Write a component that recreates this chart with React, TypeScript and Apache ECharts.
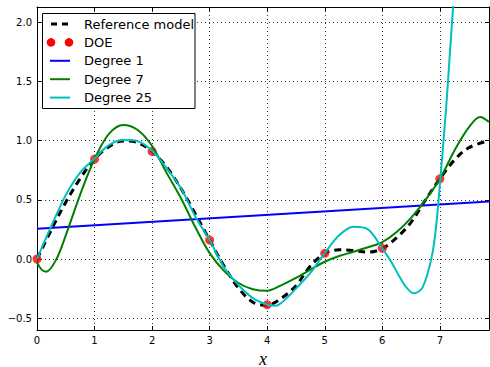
import React, { useEffect, useRef } from 'react';
import * as echarts from 'echarts';

const X_MIN = 0;
const X_MAX = 7.854;
const Y_MIN = -0.6;
const Y_MAX = 2.13;

const legendLabels = ['Reference model', 'DOE', 'Degree 1', 'Degree 7', 'Degree 25'];

const refX = [0, 0.25, 0.5, 0.75, 1.0, 1.25, 1.5, 1.75, 2.0, 2.25, 2.5, 2.75, 3.0, 3.25, 3.5, 3.75, 4.0, 4.25, 4.5, 4.75, 5.0, 5.25, 5.5, 5.75, 6.0, 6.25, 6.5, 6.75, 7.0, 7.25, 7.5, 7.854];
const refY = [0, 0.247, 0.48, 0.68, 0.845, 0.95, 0.998, 0.984, 0.909, 0.778, 0.598, 0.382, 0.16, -0.06, -0.245, -0.365, -0.39, -0.33, -0.225, -0.06, 0.048, 0.078, 0.072, 0.058, 0.088, 0.18, 0.31, 0.5, 0.678, 0.835, 0.94, 1.0];

const doeX = [0, 1, 2, 3, 4, 5, 6, 7];
const doeY = [0, 0.845, 0.909, 0.16, -0.386, 0.048, 0.09, 0.678];

const deg1X = [0, 7.854];
const deg1Y = [0.255, 0.487];

const deg7X = [0, 0.08, 0.16, 0.33, 0.5, 0.75, 1.0, 1.25, 1.5, 1.75, 2.0, 2.25, 2.5, 2.75, 3.0, 3.25, 3.5, 3.75, 4.0, 4.25, 4.5, 4.75, 5.0, 5.25, 5.5, 5.75, 6.0, 6.25, 6.5, 6.75, 7.0, 7.25, 7.5, 7.7, 7.854];
const deg7Y = [-0.03, -0.09, -0.107, -0.008, 0.2, 0.545, 0.845, 1.057, 1.132, 1.09, 0.955, 0.73, 0.515, 0.27, 0.05, -0.1, -0.203, -0.255, -0.268, -0.22, -0.16, -0.09, -0.023, 0.025, 0.061, 0.099, 0.143, 0.228, 0.348, 0.5, 0.676, 0.913, 1.11, 1.2, 1.158];

const deg25X = [0, 0.25, 0.5, 0.75, 1.0, 1.25, 1.5, 1.75, 2.0, 2.25, 2.5, 2.75, 3.0, 3.25, 3.5, 3.75, 4.0, 4.15, 4.25, 4.5, 4.75, 5.0, 5.25, 5.5, 5.75, 6.0, 6.15, 6.3, 6.42, 6.55, 6.7, 6.86, 6.94, 7.0, 7.06, 7.12, 7.17, 7.23, 7.3];
const deg25Y = [0, 0.28, 0.54, 0.73, 0.85, 0.963, 1.005, 0.996, 0.915, 0.77, 0.6, 0.36, 0.158, -0.07, -0.22, -0.33, -0.385, -0.395, -0.37, -0.25, -0.118, 0.05, 0.2, 0.272, 0.25, 0.09, -0.02, -0.15, -0.24, -0.29, -0.24, 0.02, 0.3, 0.627, 0.98, 1.35, 1.71, 2.13, 2.65];

const pairs = (xs: number[], ys: number[]) => xs.map((x, i) => [x, ys[i]]);

export default function App() {
  const ref = useRef<HTMLDivElement>(null);
  useEffect(() => {
    const chart = echarts.init(ref.current!, null, { renderer: 'svg' });
    const axisLine = { show: true, onZero: false, lineStyle: { color: '#000', width: 1 } };
    const tick = { show: true, inside: true, length: 4, lineStyle: { color: '#000', width: 1 } };
    const gridLine = { show: true, lineStyle: { color: '#000', width: 0.8, type: [1, 3] } };
    const labelFont = { fontFamily: 'DejaVu Sans', fontSize: 10, color: '#000' };
    const fmt = (v: number) => (v < 0 ? '\u2212' : '') + Math.abs(v).toFixed(1);

    const legendTop = 24;
    const legendStep = 18.4;
    const legendColors = ['#000', '#ff0000', '#0000ff', '#008000', '#00bfbf'];
    const legendEls: any[] = [
      {
        type: 'rect',
        shape: { x: 42.5, y: 13.5, width: 152.5, height: 95 },
        style: { fill: '#fff', stroke: '#000', lineWidth: 1 },
        z: 100,
      },
    ];
    legendLabels.forEach((label, i) => {
      const cy = legendTop + i * legendStep;
      if (i === 0) {
        legendEls.push({ type: 'line', shape: { x1: 51, y1: cy, x2: 68, y2: cy }, style: { stroke: '#000', lineWidth: 3, lineDash: [6, 5] }, z: 101 });
      } else if (i === 1) {
        legendEls.push({ type: 'circle', shape: { cx: 51, cy, r: 4.3 }, style: { fill: '#ff0000' }, z: 101 });
        legendEls.push({ type: 'circle', shape: { cx: 69, cy, r: 4.3 }, style: { fill: '#ff0000' }, z: 101 });
      } else {
        legendEls.push({ type: 'line', shape: { x1: 50, y1: cy, x2: 70, y2: cy }, style: { stroke: legendColors[i], lineWidth: 2 }, z: 101 });
      }
      legendEls.push({
        type: 'text',
        x: 84,
        y: cy,
        style: { text: label, fontFamily: 'DejaVu Sans', fontSize: 13, fill: '#000', verticalAlign: 'middle', align: 'left' },
        z: 101,
      });
    });

    const smoothCfg = { smooth: 0.34 };

    chart.setOption({
      animation: false,
      backgroundColor: '#fff',
      grid: { left: 37, right: 1, top: 7, bottom: 37, containLabel: false, outerBoundsMode: 'none' },
      xAxis: [
        {
          type: 'value', min: X_MIN, max: X_MAX, minInterval: 1, maxInterval: 1, position: 'bottom',
          axisLine, axisTick: tick, splitLine: gridLine,
          axisLabel: { ...labelFont, showMinLabel: true, showMaxLabel: false, margin: 5 },
          name: 'x', nameLocation: 'middle', nameGap: 24,
          nameTextStyle: { fontFamily: 'Liberation Serif', fontStyle: 'italic', fontSize: 18, lineHeight: 14, verticalAlign: 'middle', color: '#000' },
        },
        {
          type: 'value', min: X_MIN, max: X_MAX, minInterval: 1, maxInterval: 1, position: 'top',
          axisLine, axisTick: tick, splitLine: { show: false }, axisLabel: { show: false },
        },
      ],
      yAxis: [
        {
          type: 'value', min: Y_MIN, max: Y_MAX, minInterval: 0.5, maxInterval: 0.5, position: 'left',
          axisLine, axisTick: tick, splitLine: gridLine,
          axisLabel: { ...labelFont, showMinLabel: false, showMaxLabel: false, margin: 5, formatter: fmt },
        },
        {
          type: 'value', min: Y_MIN, max: Y_MAX, minInterval: 0.5, maxInterval: 0.5, position: 'right',
          axisLine, axisTick: tick, splitLine: { show: false }, axisLabel: { show: false },
        },
      ],
      series: [
        {
          name: legendLabels[0], type: 'line', data: pairs(refX, refY), showSymbol: false, ...smoothCfg,
          lineStyle: { color: '#000', width: 3, type: [7, 5] }, z: 2,
        },
        {
          name: legendLabels[1], type: 'scatter', data: pairs(doeX, doeY), symbolSize: 9,
          itemStyle: { color: '#ff0000' }, z: 3,
        },
        {
          name: legendLabels[2], type: 'line', data: pairs(deg1X, deg1Y), showSymbol: false,
          lineStyle: { color: '#0000ff', width: 2 }, z: 4,
        },
        {
          name: legendLabels[3], type: 'line', data: pairs(deg7X, deg7Y), showSymbol: false, ...smoothCfg,
          lineStyle: { color: '#008000', width: 2 }, z: 5,
        },
        {
          name: legendLabels[4], type: 'line', data: pairs(deg25X, deg25Y), showSymbol: false, ...smoothCfg,
          lineStyle: { color: '#00bfbf', width: 2 }, z: 6, clip: true,
        },
      ],
      graphic: legendEls,
    });
    return () => chart.dispose();
  }, []);
  return <div ref={ref} style={{ position: 'fixed', left: 0, top: 0, width: 490, height: 367, background: '#fff' }} />;
}
